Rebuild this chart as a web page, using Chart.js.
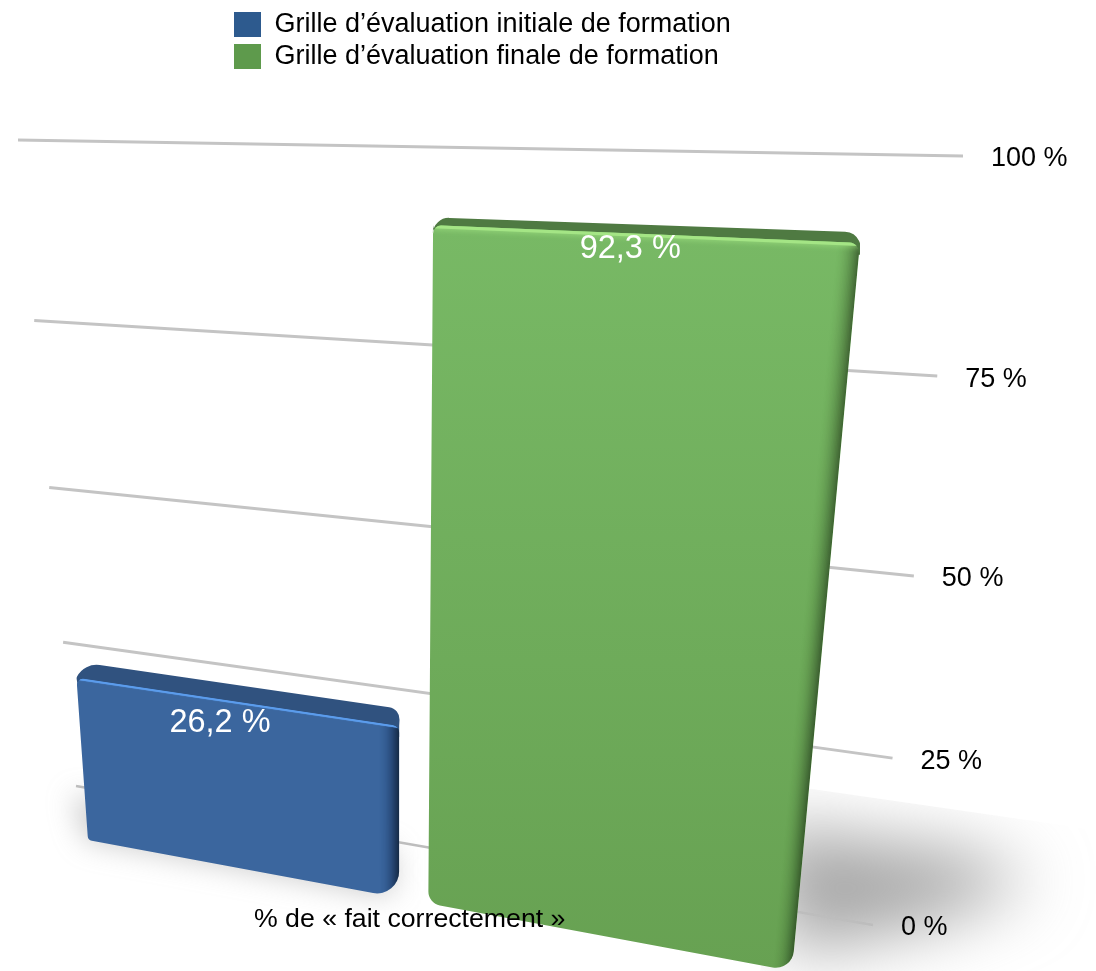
<!DOCTYPE html>
<html><head><meta charset="utf-8">
<style>html,body{margin:0;padding:0;background:#fff}canvas{display:block}</style>
<script src="https://cdn.jsdelivr.net/npm/chart.js@4"></script>
</head><body><canvas id="c" width="1096" height="971"></canvas>
<script>
const categories = ['% de « fait correctement »'];
const seriesNames = ['Grille d’évaluation initiale de formation','Grille d’évaluation finale de formation'];
const initialValues = [26.2];
const finalValues = [92.3];
const FONT = '"Liberation Sans", Arial, sans-serif';

// square -> quad projective map (order: (0,0),(1,0),(1,1),(0,1))
function homography(p){
  const [[x0,y0],[x1,y1],[x2,y2],[x3,y3]] = p;
  const dx1=x1-x2,dx2=x3-x2,dy1=y1-y2,dy2=y3-y2,sx=x0-x1+x2-x3,sy=y0-y1+y2-y3;
  const den=dx1*dy2-dx2*dy1;
  const g=(sx*dy2-dx2*sy)/den,h=(dx1*sy-sx*dy1)/den;
  const a=x1-x0+g*x1,b=x3-x0+h*x3,c=x0,d=y1-y0+g*y1,e=y3-y0+h*y3,f=y0;
  return (u,v)=>{const w=g*u+h*v+1;return [(a*u+b*v+c)/w,(d*u+e*v+f)/w];};
}
const gridPlane = homography([[76,786],[873,925],[963,156],[18,140]]);
const REF = 0.923;
const frontRaw = homography([[88,840],[792,971],[860,243],[43,209]]);
const backRaw  = homography([[96,821],[786,948],[855,232],[50.5,204]]);
const BAR_PCT = 0.92;
const S0 = 0.25-BAR_PCT/4;
const toS = u => (u-S0)/(1-2*S0);
const front = (u,v)=>frontRaw(toS(u),v/REF);
const back  = (u,v)=>backRaw(toS(u),v/REF);

const barStyles = [
 {top:'#30527f',hiColor:'#5b9cec',hiW:2,hiBlur:1,stops:['#3b669e','#3b669e'],edge:0.07,edgeW:0.034,topR:[22,12],frontR:[6,8,22,5],ldx:-12,ldy:22},
 {top:'#4f7a42',hiColor:'#a4e585',hiW:4,hiBlur:6,stops:['#78b965','#67a152'],edge:0.05,edgeW:0.03,topR:[16,16],frontR:[8,10,18,14],ldx:-7,ldy:15}
];

function roundedPoly(ctx,pts,radii){
  const n=pts.length;
  const mid=(a,b)=>[(a[0]+b[0])/2,(a[1]+b[1])/2];
  const st=mid(pts[n-1],pts[0]);
  ctx.beginPath();ctx.moveTo(st[0],st[1]);
  for(let i=0;i<n;i++){const p=pts[i],q=pts[(i+1)%n];ctx.arcTo(p[0],p[1],q[0],q[1],radii[i]);}
  ctx.closePath();
}
function drawBar(chart,el,ctx,st){
  const a=chart.chartArea;
  const uL=(el.x-el.width/2-a.left)/a.width,uR=(el.x+el.width/2-a.left)/a.width;
  const vT=(a.bottom-el.y)/a.height,vB=(a.bottom-el.base)/a.height;
  const fTL=front(uL,vT),fTR=front(uR,vT),fBR=front(uR,vB),fBL=front(uL,vB);
  const bTL=back(uL,vT),bTR=back(uR,vT);
  ctx.save();
  ctx.fillStyle=st.top;
  roundedPoly(ctx,[bTL,bTR,fTR,[fTR[0],fTR[1]+12],[fTL[0]+2,fTL[1]+12],fTL],[st.topR[0],st.topR[1],3,1,1,4]);ctx.fill();
  ctx.restore();
  ctx.save();
  roundedPoly(ctx,[fTL,fTR,fBR,fBL],st.frontR);ctx.clip();
  const g=ctx.createLinearGradient(fTL[0],Math.min(fTL[1],fTR[1]),fBL[0],Math.max(fBL[1],fBR[1]));
  g.addColorStop(0,st.stops[0]);g.addColorStop(1,st.stops[1]);
  ctx.fillStyle=g;ctx.fillRect(0,0,chart.width,chart.height);
  // rounded right edge: accumulated thin veils so that no seam shows
  const N=20;
  for(let k=0;k<N;k++){
    const t=k/N,s=uR-st.edgeW*(1-2*S0)*(1-t);
    const p=[front(s,vT),fTR,fBR,front(s,vB)];
    ctx.fillStyle='rgba(0,0,0,'+(st.edge*t*t*1.6)+')';
    ctx.beginPath();p.forEach((q,i)=>i?ctx.lineTo(q[0],q[1]):ctx.moveTo(q[0],q[1]));ctx.closePath();ctx.fill();
  }
  // highlight along the front top edge
  ctx.strokeStyle=st.hiColor;ctx.lineWidth=st.hiW;ctx.shadowColor=st.hiColor;ctx.shadowBlur=st.hiBlur;
  ctx.beginPath();ctx.moveTo(fTL[0],fTL[1]+1);ctx.lineTo(fTR[0],fTR[1]+1);ctx.stroke();
  ctx.restore();
}
const perspective = {
  id:'perspective',
  afterDatasetsUpdate(chart){
    chart.data.datasets.forEach((d,i)=>{
      chart.getDatasetMeta(i).data.forEach(el=>{
        el.draw=function(ctx){drawBar(chart,this,ctx,barStyles[i]);};
      });
    });
  },
  afterLayout(chart){
    const l=chart.legend;l.left=229;l.top=6;l.right=760;l.bottom=80;
  },
  beforeDatasetsDraw(chart){
    const ctx=chart.ctx,a=chart.chartArea,ys=chart.scales.y;
    // floor shadows
    ctx.save();
    ctx.beginPath();ctx.moveTo(805,788);ctx.lineTo(1096,830);ctx.lineTo(1096,971);ctx.lineTo(760,971);ctx.closePath();ctx.clip();
    ctx.filter='blur(34px)';ctx.fillStyle='rgba(150,150,150,0.85)';
    ctx.beginPath();ctx.moveTo(760,825);ctx.lineTo(960,852);ctx.lineTo(1035,880);ctx.lineTo(940,920);ctx.lineTo(790,955);ctx.closePath();ctx.fill();
    ctx.restore();
    ctx.save();
    ctx.filter='blur(14px)';ctx.fillStyle='rgba(130,130,130,0.4)';
    ctx.beginPath();ctx.moveTo(72,795);ctx.lineTo(395,850);ctx.lineTo(395,890);ctx.lineTo(380,895);ctx.lineTo(85,840);ctx.closePath();ctx.fill();
    ctx.restore();
    // gridlines, projected from the y scale
    ctx.save();
    ys.ticks.forEach(t=>{
      const v=(a.bottom-ys.getPixelForValue(t.value))/a.height;
      const L=gridPlane(0,v),R=gridPlane(1,v);
      ctx.strokeStyle=t.value===0?'#bdbdbd':'#c4c4c4';ctx.lineWidth=t.value===0?2.5:3;
      ctx.beginPath();ctx.moveTo(L[0],L[1]);ctx.lineTo(R[0],R[1]);ctx.stroke();
    });
    ctx.restore();
  },
  afterDatasetsDraw(chart){
    const ctx=chart.ctx,a=chart.chartArea,ys=chart.scales.y,xs=chart.scales.x;
    ctx.save();
    ctx.textBaseline='middle';ctx.fillStyle='#000';ctx.textAlign='left';ctx.font='27px '+FONT;
    ys.ticks.forEach(t=>{
      const v=(a.bottom-ys.getPixelForValue(t.value))/a.height;
      const R=gridPlane(1,v);
      ctx.fillText(t.label,R[0]+28,R[1]+3);
    });
    // category label
    ctx.textAlign='center';ctx.font='26.7px '+FONT;
    const c=front(0.5,0);
    ctx.fillText(xs.getLabelForValue(0),c[0]-4,c[1]+19);
    // value labels
    ctx.fillStyle='#fff';ctx.font='32.5px '+FONT;
    chart.data.datasets.forEach((d,i)=>{
      chart.getDatasetMeta(i).data.forEach((el,j)=>{
        const u=(el.x-a.left)/a.width,v=(a.bottom-el.y)/a.height;
        const p=front(u,v),st=barStyles[i];
        ctx.fillText(d.data[j].toFixed(1).replace('.',',')+' %',p[0]+st.ldx,p[1]+st.ldy);
      });
    });
    ctx.restore();
  }
};
new Chart(document.getElementById('c'),{
  type:'bar',
  data:{labels:categories,datasets:[
    {label:seriesNames[0],data:initialValues,backgroundColor:'#2d5a8e',clip:false},
    {label:seriesNames[1],data:finalValues,backgroundColor:'#5e9a4c',clip:false}
  ]},
  options:{
    responsive:false,animation:false,devicePixelRatio:1,
    layout:{padding:0},
    datasets:{bar:{categoryPercentage:1,barPercentage:BAR_PCT}},
    scales:{
      x:{display:true,grid:{display:false},border:{display:false},ticks:{display:false}},
      y:{min:0,max:100,display:true,grid:{display:false},border:{display:false},
         ticks:{display:false,stepSize:25,callback:v=>v+' %'}}
    },
    plugins:{
      tooltip:{enabled:false},
      legend:{position:'chartArea',align:'start',
        labels:{boxWidth:27,boxHeight:25,padding:5,color:'#000',font:{size:27,family:FONT}}}
    }
  },
  plugins:[perspective]
});
</script></body></html>
